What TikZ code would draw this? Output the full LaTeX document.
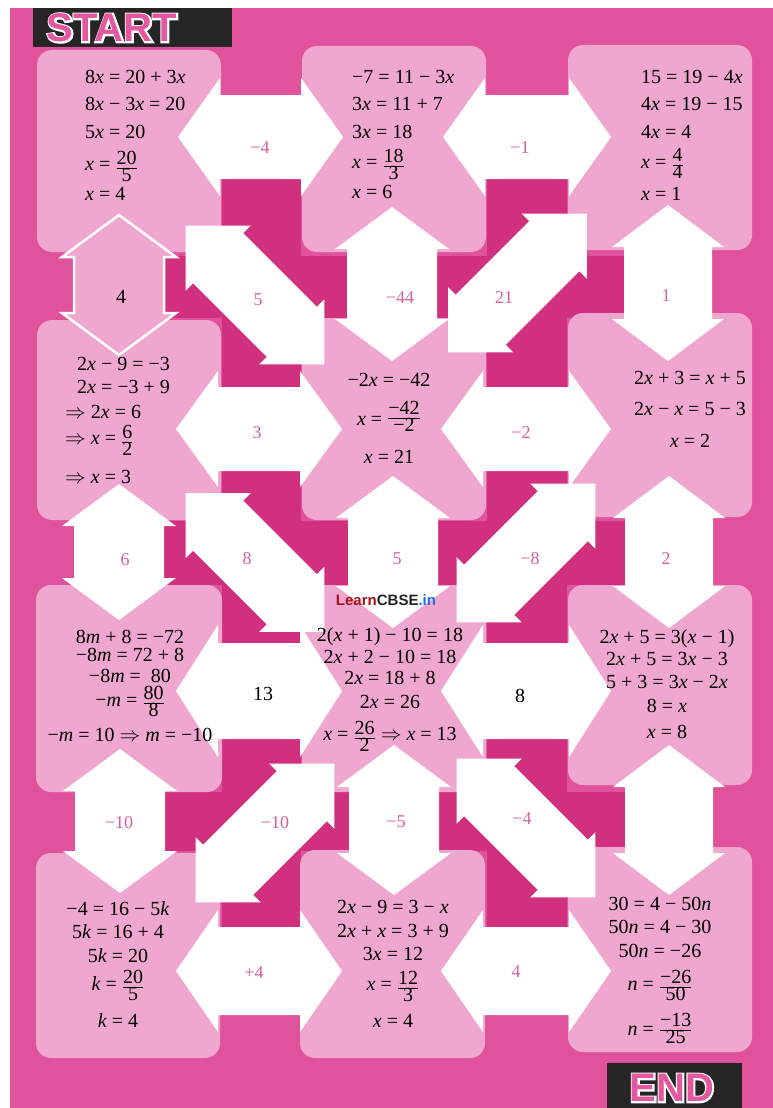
\documentclass[tikz,border=0pt]{standalone}
\usepackage{fontspec}
\setmainfont{Liberation Serif}
\newfontfamily\sansfont{Liberation Sans}
\newfontfamily\outlinefont{Liberation Sans}[FakeBold=8]
\usetikzlibrary{calc}
\definecolor{bgpink}{HTML}{E0539C}
\definecolor{darkpink}{HTML}{D1307F}
\definecolor{boxpink}{HTML}{F0A7CF}
\definecolor{lblpink}{HTML}{D65FA0}
\definecolor{titlepink}{HTML}{E4589F}
\definecolor{titleblack}{HTML}{252525}
\definecolor{learnred}{HTML}{A5121C}
\definecolor{cbsedark}{HTML}{222222}
\definecolor{inblue}{HTML}{1B6FD8}
\setlength{\lineskiplimit}{-300pt}
\setlength{\lineskip}{0pt}
\newcommand\eqfont{\fontsize{20}{0}\selectfont}
\newcommand\iv[1]{\textit{#1}}
\newcommand\fr[3][-3pt]{\raisebox{#1}{$\frac{\mbox{#2}}{\mbox{#3}}$}}
\newcommand\imp{$\Rightarrow$}
% #1 style, #2 centre, #3 angle, #4 half length, #5 head length, #6 shaft half width, #7 head half width
\newcommand\dblarrow[7]{%
  \begin{scope}[shift={(#2)},rotate=#3]
    \filldraw[#1] (-#4,0) -- (-#4+#5,#7) -- (-#4+#5,#6) -- (#4-#5,#6) -- (#4-#5,#7) -- (#4,0)
      -- (#4-#5,-#7) -- (#4-#5,-#6) -- (-#4+#5,-#6) -- (-#4+#5,-#7) -- cycle;
  \end{scope}}
\begin{document}
\begin{tikzpicture}[x=1pt,y=-1pt,
  box/.style={rounded corners=15pt,fill=boxpink},
  warrow/.style={fill=white,draw=none},
  parrow/.style={fill=boxpink,draw=white,line width=2.5pt,line join=miter},
  eq/.style={inner sep=0pt,font=\eqfont},
  lbl/.style={inner sep=0pt,font=\fontsize{18}{18}\selectfont,text=lblpink},
  blbl/.style={inner sep=0pt,font=\eqfont,text=black},
  title/.style={inner sep=0pt,font=\fontsize{40}{40}\selectfont}]
\useasboundingbox (0,0) rectangle (773,1108);
\fill[white] (0,0) rectangle (773,1108);
\fill[bgpink] (10,8) rectangle (773,1108);

% START / END plates
\fill[titleblack] (33,8) rectangle (232,47);
\node[title,text=white] (startW) at (112,28) {\outlinefont\bfseries START};
\node[title,text=titlepink] (start) at (112,28) {\sansfont\bfseries START};
\fill[titleblack] (607,1063) rectangle (742,1108);
\node[title,text=white] (endW) at (672,1088) {\outlinefont\bfseries END};
\node[title,text=titlepink] (end) at (672,1088) {\sansfont\bfseries END};

% dark crossings
\foreach \ya/\yb/\hy/\hyb in {137/428/256/318, 428/691/521/585, 691/971/792/851}{
  \fill[darkpink] (222,\ya) rectangle (301,\yb);
  \fill[darkpink] (120,\hy) rectangle (392,\hyb);
  \fill[darkpink] (487,\ya) rectangle (567,\yb);
  \fill[darkpink] (392,\hy) rectangle (668,\hyb);
}

% boxes
\path[box] (37,50) rectangle (221,252);   \coordinate (A) at (129,151);
\path[box] (302,46) rectangle (486,252);  \coordinate (B) at (394,149);
\path[box] (568,45) rectangle (752,250);  \coordinate (C) at (660,148);
\path[box] (37,320) rectangle (221,520);  \coordinate (D) at (129,420);
\path[box] (302,318) rectangle (486,520); \coordinate (E) at (394,419);
\path[box] (568,313) rectangle (752,517); \coordinate (F) at (660,415);
\path[box] (36,585) rectangle (222,792);  \coordinate (G) at (129,688);
\path[box] (302,585) rectangle (486,792); \coordinate (H) at (394,688);
\path[box] (568,585) rectangle (752,785); \coordinate (I) at (660,685);
\path[box] (36,853) rectangle (220,1058); \coordinate (J) at (128,955);
\path[box] (300,850) rectangle (485,1058);\coordinate (K) at (392,954);
\path[box] (568,847) rectangle (752,1052);\coordinate (L) at (660,950);

% arrow centres
\coordinate (hAB) at (260.5,137); \coordinate (hBC) at (527,137);
\coordinate (hDE) at (259,429);   \coordinate (hEF) at (526,429);
\coordinate (hGH) at (259,691);   \coordinate (hHI) at (526,691);
\coordinate (hJK) at (259,971);   \coordinate (hKL) at (526,971);
\coordinate (vAD) at (119,285);   \coordinate (vBE) at (392,284); \coordinate (vCF) at (668,283);
\coordinate (vDG) at (119,552);   \coordinate (vEH) at (393,552); \coordinate (vFI) at (669,552);
\coordinate (vGJ) at (120,821);   \coordinate (vHK) at (394,820); \coordinate (vIL) at (669,820);
\coordinate (dAE) at (255,295);   \coordinate (dEC) at (517.5,283);
\coordinate (dDH) at (255,562.5); \coordinate (dHF) at (526,553);
\coordinate (dJH) at (265,833);   \coordinate (dHL) at (526,828);

% horizontal arrows
\dblarrow{warrow}{hAB}{0}{82.5}{42}{42}{59}
\dblarrow{warrow}{hBC}{0}{84}{42}{42}{59}
\dblarrow{warrow}{hDE}{0}{83}{42}{42}{58}
\dblarrow{warrow}{hEF}{0}{85}{42}{42}{58}
\dblarrow{warrow}{hGH}{0}{83}{42}{48}{66}
\dblarrow{warrow}{hHI}{0}{85}{42}{48}{66}
\dblarrow{warrow}{hJK}{0}{83}{42}{44}{61}
\dblarrow{warrow}{hKL}{0}{85}{42}{44}{61}
% vertical arrows
\dblarrow{parrow}{vAD}{90}{70}{42}{45}{57}
\dblarrow{warrow}{vBE}{90}{77}{42}{45}{57}
\dblarrow{warrow}{vCF}{90}{78}{42}{44}{56}
\dblarrow{warrow}{vDG}{90}{68}{42}{45}{57}
\dblarrow{warrow}{vEH}{90}{76}{42}{45}{57}
\dblarrow{warrow}{vFI}{90}{76}{42}{44}{56}
\dblarrow{warrow}{vGJ}{90}{72}{42}{45}{57}
\dblarrow{warrow}{vHK}{90}{75}{42}{45}{57}
\dblarrow{warrow}{vIL}{90}{75}{42}{44}{56}
% diagonal arrows
\dblarrow{warrow}{dAE}{-45}{98}{46}{35.5}{46}
\dblarrow{warrow}{dEC}{45}{98}{46}{35.5}{46}
\dblarrow{warrow}{dDH}{-45}{98}{46}{35.5}{46}
\dblarrow{warrow}{dHF}{45}{98}{46}{35.5}{46}
\dblarrow{warrow}{dJH}{45}{98}{46}{35.5}{46}
\dblarrow{warrow}{dHL}{-45}{98}{46}{35.5}{46}

% arrow labels
\node[lbl] (lAB) at (260,148) {−4};
\node[lbl] (lBC) at (520,148) {−1};
\node[blbl] (lAD) at (121,297) {4};
\node[lbl] (lAE) at (258,300) {5};
\node[lbl] (lBE) at (400,298) {−44};
\node[lbl] (lEC) at (504,298) {21};
\node[lbl] (lCF) at (666,296) {1};
\node[lbl] (lDE) at (257,433) {3};
\node[lbl] (lEF) at (521,433) {−2};
\node[lbl] (lDG) at (125,560) {6};
\node[lbl] (lDH) at (247,559) {8};
\node[lbl] (lEH) at (397,559) {5};
\node[lbl] (lHF) at (530,559) {−8};
\node[lbl] (lFI) at (666,559) {2};
\node[blbl] (lGH) at (263,694) {13};
\node[blbl] (lHI) at (520,696) {8};
\node[lbl] (lGJ) at (119,823) {−10};
\node[lbl] (lJH) at (275,823) {−10};
\node[lbl] (lHK) at (396,822) {−5};
\node[lbl] (lHL) at (522,819) {−4};
\node[lbl] (lJK) at (254,973) {+4};
\node[lbl] (lKL) at (516,972) {4};

% equations (anchor = baseline of the last line)
\node[eq,anchor=base west,align=left] (tA) at (85,200)
 {8\iv{x} = 20 + 3\iv{x}\\[27.5pt]8\iv{x} − 3\iv{x} = 20\\[27.5pt]5\iv{x} = 20\\[32pt]\iv{x} = \fr{20}{5}\\[30pt]\iv{x} = 4};
\node[eq,anchor=base west,align=left] (tB) at (352,198)
 {−7 = 11 − 3\iv{x}\\[27.5pt]3\iv{x} = 11 + 7\\[27.5pt]3\iv{x} = 18\\[30pt]\iv{x} = \fr{18}{3}\\[30pt]\iv{x} = 6};
\node[eq,anchor=base west,align=left] (tC) at (641,200)
 {15 = 19 − 4\iv{x}\\[27.5pt]4\iv{x} = 19 − 15\\[27.5pt]4\iv{x} = 4\\[30pt]\iv{x} = \fr[-2pt]{4}{4}\\[32pt]\iv{x} = 1};
\node[eq,anchor=base west,align=left] (tD) at (65,483)
 {\hspace*{12pt}2\iv{x} − 9 = −3\\[23pt]\hspace*{12pt}2\iv{x} = −3 + 9\\[25pt]\imp\ 2\iv{x} = 6\\[26pt]\imp\ \iv{x} = \fr{6}{2}\\[39pt]\imp\ \iv{x} = 3};
\node[eq,anchor=base,align=center] (tE) at (389,463)
 {−2\iv{x} = −42\\[39pt]\iv{x} = \fr[2pt]{−42}{−2}\\[38pt]\iv{x} = 21};
\node[eq,anchor=base,align=center] (tF) at (690,447)
 {2\iv{x} + 3 = \iv{x} + 5\\[31.5pt]2\iv{x} − \iv{x} = 5 − 3\\[31.5pt]\iv{x} = 2};
\node[eq,anchor=base,align=center] (tG) at (130,741)
 {8\iv{m} + 8 = −72\\[18pt]−8\iv{m} = 72 + 8\\[21pt]−8\iv{m} = \ 80\\[24pt]−\iv{m} = \fr[-2pt]{80}{8}\\[35pt]−\iv{m} = 10 \imp\ \iv{m} = −10};
\node[eq,anchor=base,align=center] (tH) at (390,740)
 {2(\iv{x} + 1) − 10 = 18\\[22pt]2\iv{x} + 2 − 10 = 18\\[21pt]2\iv{x} = 18 + 8\\[24pt]2\iv{x} = 26\\[32pt]\iv{x} = \fr{26}{2} \imp\ \iv{x} = 13};
\node[eq,anchor=base,align=center] (tI) at (667,738)
 {2\iv{x} + 5 = 3(\iv{x} − 1)\\[22pt]2\iv{x} + 5 = 3\iv{x} − 3\\[23pt]5 + 3 = 3\iv{x} − 2\iv{x}\\[24pt]8 = \iv{x}\\[26pt]\iv{x} = 8};
\node[eq,anchor=base,align=center] (tJ) at (118,1027)
 {−4 = 16 − 5\iv{k}\\[23pt]5\iv{k} = 16 + 4\\[24pt]5\iv{k} = 20\\[28pt]\iv{k} = \fr[-2pt]{20}{5}\\[37pt]\iv{k} = 4};
\node[eq,anchor=base,align=center] (tK) at (393,1027)
 {2\iv{x} − 9 = 3 − \iv{x}\\[24pt]2\iv{x} + \iv{x} = 3 + 9\\[23pt]3\iv{x} = 12\\[30pt]\iv{x} = \fr{12}{3}\\[37pt]\iv{x} = 4};
\node[eq,anchor=base,align=center] (tL) at (660,1035)
 {30 = 4 − 50\iv{n}\\[23pt]50\iv{n} = 4 − 30\\[24pt]50\iv{n} = −26\\[33pt]\iv{n} = \fr[-2pt]{−26}{50}\\[45pt]\iv{n} = \fr[0pt]{−13}{25}};

% watermark
\node[inner sep=0pt,font=\sansfont\bfseries\fontsize{15}{15}\selectfont] (logo) at (386,600)
 {\textcolor{learnred}{Learn}\textcolor{cbsedark}{CBSE}\textcolor{inblue}{.in}};
\end{tikzpicture}
\end{document}
